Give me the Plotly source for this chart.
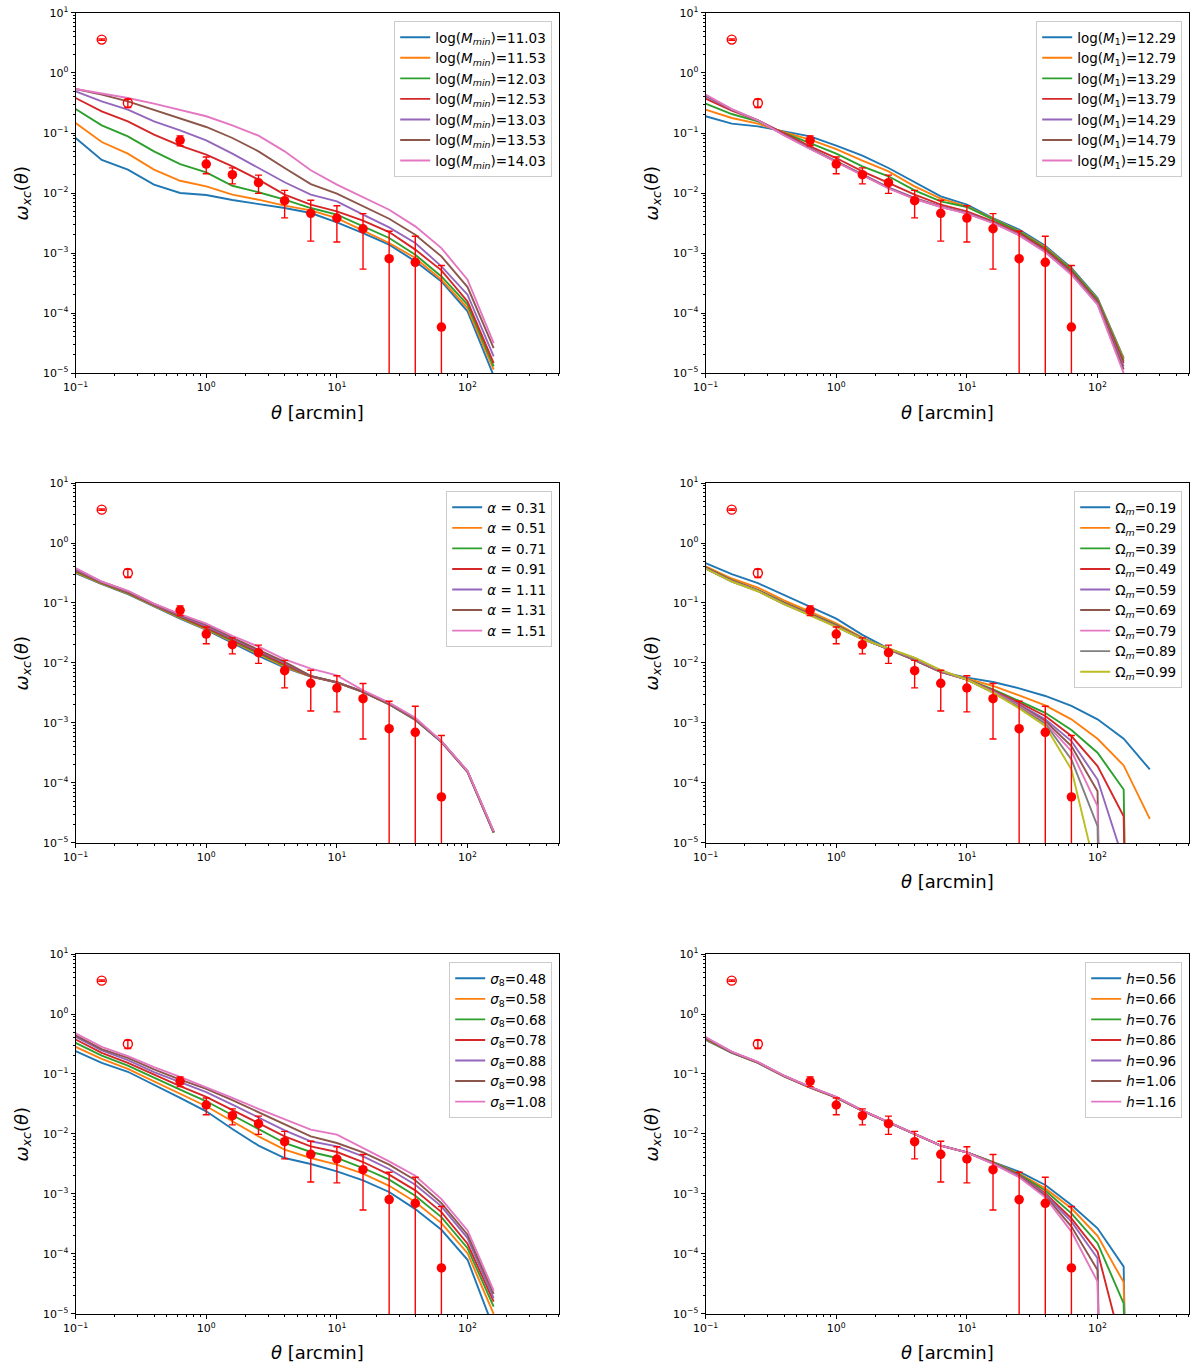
import plotly.graph_objects as go
from plotly.subplots import make_subplots

# angular bins (arcmin)
theta = [0.1, 0.1585, 0.2512, 0.3981, 0.631, 1.0, 1.585, 2.512, 3.981, 6.31,
         10.0, 15.85, 25.12, 39.81, 63.1, 100.0, 158.5, 251.2]

# measured cross-correlation
obs_theta = [0.631, 1.0, 1.585, 2.512, 3.981, 6.31, 10.0, 15.85, 25.12, 39.81, 63.1]
obs_w = [0.0755, 0.0304, 0.0202, 0.01486, 0.00745, 0.00458, 0.00383, 0.00254, 0.000805, 0.000699, 5.85e-5]
obs_err = [0.014, 0.0095, 0.006, 0.005, 0.0036, 0.003, 0.0023, 0.0020, 0.0015, 0.0012, 0.00056]
# excluded small-scale points (open symbols)
excl_theta = [0.1585, 0.2512]
excl_w = [3.6, 0.316]
excl_err = [0.1, 0.05]

# model curves; 1e-30 marks values that fall below zero
mmin_labels = ['11.03', '11.53', '12.03', '12.53', '13.03', '13.53', '14.03']
mmin_values = [
    [0.0826, 0.0355, 0.0245, 0.0138, 0.0100, 0.00926, 0.00764, 0.00664, 0.00562, 0.00464, 0.00324, 0.00215, 0.00138, 0.000727, 0.000337, 0.000107, 9.0e-6],
    [0.147, 0.0708, 0.0453, 0.0245, 0.0160, 0.0129, 0.00938, 0.00774, 0.00615, 0.00514, 0.00383, 0.00239, 0.00147, 0.000826, 0.00036, 0.000121, 1.14e-5],
    [0.251, 0.134, 0.088, 0.0495, 0.0304, 0.0221, 0.0132, 0.0103, 0.00774, 0.00562, 0.00436, 0.00278, 0.00178, 0.000938, 0.000408, 0.000138, 1.29e-5],
    [0.383, 0.23, 0.156, 0.0938, 0.0615, 0.0436, 0.0278, 0.0167, 0.00938, 0.0064, 0.00495, 0.00346, 0.00224, 0.00114, 0.000514, 0.000156, 1.47e-5],
    [0.495, 0.337, 0.245, 0.156, 0.111, 0.0755, 0.0453, 0.0261, 0.0151, 0.00938, 0.00726, 0.00436, 0.00268, 0.00147, 0.0006, 0.000202, 1.9e-5],
    [0.541, 0.435, 0.337, 0.245, 0.178, 0.126, 0.0826, 0.0495, 0.0261, 0.0141, 0.00975, 0.006, 0.00373, 0.00202, 0.00088, 0.000271, 2.61e-5],
    [0.541, 0.453, 0.383, 0.308, 0.245, 0.19, 0.134, 0.0903, 0.0495, 0.0239, 0.0138, 0.00857, 0.00527, 0.00278, 0.00121, 0.00036, 3.16e-5],
]

m1_labels = ['12.29', '12.79', '13.29', '13.79', '14.29', '14.79', '15.29']
m1_values = [
    [0.19, 0.143, 0.129, 0.107, 0.088, 0.0615, 0.0419, 0.0261, 0.0151, 0.0088, 0.0064, 0.00383, 0.00245, 0.00132, 0.000562, 0.000178, 1.78e-5],
    [0.245, 0.178, 0.143, 0.103, 0.0775, 0.0541, 0.0346, 0.023, 0.0129, 0.00805, 0.0060, 0.00369, 0.00233, 0.00126, 0.00054, 0.000171, 1.7e-5],
    [0.308, 0.207, 0.156, 0.100, 0.0681, 0.0453, 0.0278, 0.019, 0.0111, 0.00726, 0.00585, 0.0036, 0.00227, 0.00121, 0.000527, 0.000167, 1.6e-5],
    [0.373, 0.236, 0.163, 0.0975, 0.060, 0.0383, 0.023, 0.0147, 0.00938, 0.0064, 0.00495, 0.00337, 0.00215, 0.00114, 0.000494, 0.000156, 1.47e-5],
    [0.408, 0.245, 0.163, 0.0938, 0.0562, 0.0337, 0.0202, 0.0124, 0.00826, 0.0060, 0.00464, 0.00324, 0.00202, 0.00107, 0.000464, 0.000147, 1.29e-5],
    [0.425, 0.248, 0.163, 0.0925, 0.0550, 0.0330, 0.0198, 0.0122, 0.0081, 0.0059, 0.00458, 0.0032, 0.00199, 0.00105, 0.00045, 0.000142, 1.15e-5],
    [0.435, 0.25, 0.163, 0.0915, 0.0541, 0.0325, 0.0195, 0.012, 0.00794, 0.00585, 0.00453, 0.00316, 0.00197, 0.00103, 0.000435, 0.000138, 1.0e-5],
]

alpha_labels = ['0.31', '0.51', '0.71', '0.91', '1.11', '1.31', '1.51']
alpha_values = [
    [0.314, 0.206, 0.14, 0.0873, 0.055, 0.0356, 0.0219, 0.0131, 0.00837, 0.00592, 0.0047, 0.00328, 0.00204, 0.00112, 0.000481, 0.000152, 1.47e-5],
    [0.325, 0.21, 0.143, 0.089, 0.0565, 0.0365, 0.0226, 0.0137, 0.0087, 0.00595, 0.00472, 0.00329, 0.00205, 0.00113, 0.000484, 0.000153, 1.48e-5],
    [0.335, 0.214, 0.146, 0.091, 0.058, 0.0378, 0.0235, 0.0144, 0.0091, 0.00598, 0.00474, 0.0033, 0.00206, 0.00114, 0.000487, 0.000154, 1.5e-5],
    [0.348, 0.218, 0.15, 0.093, 0.0598, 0.039, 0.0244, 0.0151, 0.0095, 0.006, 0.00476, 0.00331, 0.00207, 0.00115, 0.00049, 0.000155, 1.51e-5],
    [0.36, 0.222, 0.154, 0.095, 0.0615, 0.0412, 0.0255, 0.016, 0.0100, 0.00605, 0.00478, 0.00332, 0.00208, 0.00116, 0.000493, 0.000156, 1.52e-5],
    [0.372, 0.226, 0.157, 0.097, 0.0632, 0.0435, 0.0265, 0.0167, 0.0104, 0.0061, 0.0048, 0.00334, 0.0021, 0.00118, 0.000496, 0.000157, 1.54e-5],
    [0.381, 0.228, 0.16, 0.098, 0.065, 0.0454, 0.0283, 0.0187, 0.0115, 0.00805, 0.00623, 0.0035, 0.00218, 0.00122, 0.000499, 0.000158, 1.57e-5],
]

om_labels = ['0.19', '0.29', '0.39', '0.49', '0.59', '0.69', '0.79', '0.89', '0.99']
om_values = [
    [0.461, 0.303, 0.214, 0.135, 0.0861, 0.055, 0.0294, 0.0174, 0.0112, 0.00708, 0.0057, 0.00482, 0.00378, 0.00282, 0.00192, 0.00115, 0.000546, 0.000168],
    [0.406, 0.256, 0.181, 0.111, 0.0721, 0.046, 0.0265, 0.0169, 0.0112, 0.0071, 0.00548, 0.00414, 0.00289, 0.00197, 0.00115, 0.000546, 0.000196, 2.52e-5],
    [0.391, 0.24, 0.166, 0.102, 0.0667, 0.0432, 0.0258, 0.0169, 0.0112, 0.0071, 0.00535, 0.00364, 0.00232, 0.00148, 0.000762, 0.000319, 7.8e-5, 1e-30],
    [0.385, 0.236, 0.163, 0.1, 0.065, 0.042, 0.0255, 0.0168, 0.0113, 0.0071, 0.0053, 0.0035, 0.00218, 0.00131, 0.000605, 0.000191, 2.79e-5, 1e-30],
    [0.38, 0.233, 0.161, 0.099, 0.064, 0.0415, 0.0253, 0.0168, 0.0114, 0.0072, 0.0053, 0.0034, 0.00204, 0.00115, 0.0005, 0.000114, 5e-6],
    [0.378, 0.231, 0.16, 0.098, 0.0635, 0.041, 0.0252, 0.0169, 0.0116, 0.0073, 0.0053, 0.0033, 0.00195, 0.00108, 0.000412, 7.3e-5, 1e-30],
    [0.376, 0.229, 0.159, 0.097, 0.063, 0.0406, 0.0251, 0.017, 0.0118, 0.0074, 0.0053, 0.0033, 0.0019, 0.00101, 0.00034, 4.1e-5, 1e-30],
    [0.374, 0.228, 0.158, 0.096, 0.0625, 0.0403, 0.025, 0.0171, 0.012, 0.0075, 0.0053, 0.0032, 0.00183, 0.00097, 0.000247, 1.9e-5, 1e-30],
    [0.372, 0.227, 0.157, 0.0955, 0.062, 0.04, 0.025, 0.0173, 0.0123, 0.0076, 0.0053, 0.0032, 0.00175, 0.00089, 0.000168, 2.6e-6],
]

s8_labels = ['0.48', '0.58', '0.68', '0.78', '0.88', '0.98', '1.08']
s8_values = [
    [0.24, 0.153, 0.109, 0.0667, 0.04, 0.0239, 0.0121, 0.0064, 0.00398, 0.00316, 0.00238, 0.00169, 0.00108, 0.00056, 0.000253, 8e-5, 5.7e-6],
    [0.284, 0.179, 0.122, 0.0758, 0.0472, 0.029, 0.0163, 0.00914, 0.00548, 0.00398, 0.00308, 0.00218, 0.00137, 0.000733, 0.000327, 0.000103, 1.0e-5],
    [0.331, 0.203, 0.138, 0.0861, 0.055, 0.0351, 0.0205, 0.0121, 0.00708, 0.00501, 0.00398, 0.00271, 0.00173, 0.000935, 0.000412, 0.000125, 1.33e-5],
    [0.376, 0.225, 0.153, 0.098, 0.0626, 0.0415, 0.0248, 0.0149, 0.00914, 0.00623, 0.00501, 0.00341, 0.0021, 0.00115, 0.000499, 0.000148, 1.61e-5],
    [0.417, 0.247, 0.17, 0.107, 0.0729, 0.0497, 0.0309, 0.019, 0.0115, 0.00755, 0.00622, 0.00425, 0.00261, 0.00143, 0.000621, 0.000184, 1.83e-5],
    [0.44, 0.26, 0.186, 0.119, 0.0807, 0.0565, 0.0366, 0.023, 0.0143, 0.00914, 0.00708, 0.00494, 0.00308, 0.00169, 0.000706, 0.000209, 2.16e-5],
    [0.474, 0.284, 0.198, 0.13, 0.0895, 0.0602, 0.04, 0.0262, 0.0174, 0.0118, 0.00975, 0.00583, 0.0035, 0.00201, 0.000822, 0.000247, 2.45e-5],
]

h_labels = ['0.56', '0.66', '0.76', '0.86', '0.96', '1.06', '1.16']
h_values = [
    [0.37, 0.225, 0.153, 0.091, 0.059, 0.0402, 0.0242, 0.0154, 0.0098, 0.0064, 0.00495, 0.00346, 0.00235, 0.00141, 0.000656, 0.000268, 6.15e-5, 1e-30],
    [0.377, 0.227, 0.154, 0.0915, 0.0594, 0.0404, 0.0243, 0.0155, 0.0098, 0.0064, 0.00495, 0.0034, 0.00218, 0.00124, 0.000577, 0.0002, 3.37e-5, 1e-30],
    [0.384, 0.228, 0.155, 0.092, 0.0597, 0.0406, 0.0244, 0.0155, 0.0099, 0.0064, 0.00495, 0.00335, 0.00212, 0.00114, 0.000476, 0.000151, 1.5e-5, 1e-30],
    [0.39, 0.23, 0.156, 0.0926, 0.06, 0.0408, 0.0245, 0.0156, 0.0099, 0.0064, 0.00495, 0.0033, 0.00205, 0.00103, 0.000393, 0.000109, 2.2e-6],
    [0.398, 0.232, 0.157, 0.093, 0.0604, 0.041, 0.0246, 0.0157, 0.0099, 0.0064, 0.00495, 0.00326, 0.002, 0.00098, 0.000346, 8.5e-5, 1e-30],
    [0.405, 0.234, 0.158, 0.0935, 0.0607, 0.0412, 0.0247, 0.0157, 0.0099, 0.0064, 0.00495, 0.00322, 0.00195, 0.00093, 0.000286, 5.4e-5, 1e-30],
    [0.413, 0.236, 0.159, 0.094, 0.061, 0.0415, 0.0248, 0.0158, 0.0099, 0.0064, 0.00495, 0.00318, 0.0019, 0.00088, 0.000236, 3.46e-5, 1e-30],
]

colors = ['#1f77b4', '#ff7f0e', '#2ca02c', '#d62728', '#9467bd',
          '#8c564b', '#e377c2', '#7f7f7f', '#bcbd22']

panels = [
    ('log(<i>M</i><sub><i>min</i></sub>)={}', mmin_labels, mmin_values, True),
    ('log(<i>M</i><sub>1</sub>)={}', m1_labels, m1_values, True),
    ('<i>α</i> = {}', alpha_labels, alpha_values, False),
    ('Ω<sub><i>m</i></sub>={}', om_labels, om_values, True),
    ('<i>σ</i><sub>8</sub>={}', s8_labels, s8_values, True),
    ('<i>h</i>={}', h_labels, h_values, True),
]

col_dom = [(0.063, 0.466), (0.588, 0.991)]
row_dom = [(0.7269, 0.9905), (0.3829, 0.6464), (0.0381, 0.3016)]

fig = make_subplots(rows=3, cols=2)

font = 'DejaVu Sans'
major_x = [0.1, 1, 10, 100]
major_y = [1e-5, 1e-4, 1e-3, 1e-2, 1e-1, 1, 10]
minor_x = [m * 10.0 ** e for e in range(-1, 3) for m in range(2, 10) if m * 10.0 ** e < 503]
minor_y = [m * 10.0 ** e for e in range(-5, 1) for m in range(2, 10)]

for i, (fmt, labels, values, has_xtitle) in enumerate(panels):
    r, c = i // 2 + 1, i % 2 + 1
    leg = 'legend' if i == 0 else f'legend{i + 1}'
    for j, (lab, vals) in enumerate(zip(labels, values)):
        fig.add_trace(go.Scatter(x=theta[:len(vals)], y=vals, mode='lines',
                                 line=dict(color=colors[j], width=1.9),
                                 name=fmt.format(lab), legend=leg),
                      row=r, col=c)
    fig.add_trace(go.Scatter(x=excl_theta, y=excl_w, mode='markers',
                             marker=dict(symbol='circle-open', color='red', size=9,
                                         line=dict(width=1.4, color='red')),
                             error_y=dict(type='data', array=excl_err, color='red',
                                          thickness=1.4, width=3.5),
                             showlegend=False), row=r, col=c)
    fig.add_trace(go.Scatter(x=obs_theta, y=obs_w, mode='markers',
                             marker=dict(color='red', size=9.5),
                             error_y=dict(type='data', array=obs_err, color='red',
                                          thickness=1.4, width=3.5),
                             showlegend=False), row=r, col=c)

    x0, x1 = col_dom[c - 1]
    y0, y1 = row_dom[r - 1]
    fig.update_xaxes(domain=[x0, x1], type='log', range=[-1, 2.7016], automargin=False,
                     tickvals=major_x,
                     ticktext=['10<sup>−1</sup>', '10<sup>0</sup>', '10<sup>1</sup>', '10<sup>2</sup>'],
                     ticks='outside', ticklen=4, tickwidth=1, tickcolor='black',
                     minor=dict(tickmode='array', tickvals=minor_x, ticks='outside',
                                ticklen=2, tickcolor='black', showgrid=False),
                     showline=True, linecolor='black', linewidth=1, mirror=True,
                     showgrid=False, zeroline=False,
                     tickfont=dict(family=font, size=11, color='black'),
                     row=r, col=c)
    fig.update_yaxes(domain=[y0, y1], type='log', range=[-5, 1], automargin=False,
                     tickvals=major_y,
                     ticktext=['10<sup>−5</sup>', '10<sup>−4</sup>', '10<sup>−3</sup>', '10<sup>−2</sup>',
                               '10<sup>−1</sup>', '10<sup>0</sup>', '10<sup>1</sup>'],
                     ticks='outside', ticklen=4, tickwidth=1, tickcolor='black',
                     minor=dict(tickmode='array', tickvals=minor_y, ticks='outside',
                                ticklen=2, tickcolor='black', showgrid=False),
                     showline=True, linecolor='black', linewidth=1, mirror=True,
                     showgrid=False, zeroline=False,
                     tickfont=dict(family=font, size=11, color='black'),
                     row=r, col=c)

    # axis titles
    if has_xtitle:
        fig.add_annotation(text='<i>θ</i> [arcmin]', xref='paper', yref='paper',
                           x=(x0 + x1) / 2, y=y0 - 39 / 1366, xanchor='center', yanchor='middle',
                           showarrow=False, font=dict(family=font, size=18, color='black'))
    fig.add_annotation(text='<i>ω</i><sub><i>xc</i></sub>(<i>θ</i>)', xref='paper', yref='paper',
                       x=x0 - 53 / 1200, y=(y0 + y1) / 2, xanchor='center', yanchor='middle',
                       textangle=-90, showarrow=False,
                       font=dict(family=font, size=18, color='black'))

    fig.update_layout({leg: dict(x=x1 - 7 / 1200, y=y1 - 8 / 1366, xanchor='right', yanchor='top',
                                 bgcolor='rgba(255,255,255,0.8)', bordercolor='#cccccc',
                                 borderwidth=1,
                                 font=dict(family=font, size=13.5, color='black'))})

fig.update_layout(width=1200, height=1366, margin=dict(l=0, r=0, t=0, b=0),
                  plot_bgcolor='white', paper_bgcolor='white',
                  font=dict(family=font, color='black'))

fig.write_html("out.html", config={'displayModeBar': False},
               post_script="document.body.style.margin='0';document.body.style.overflow='hidden';")
